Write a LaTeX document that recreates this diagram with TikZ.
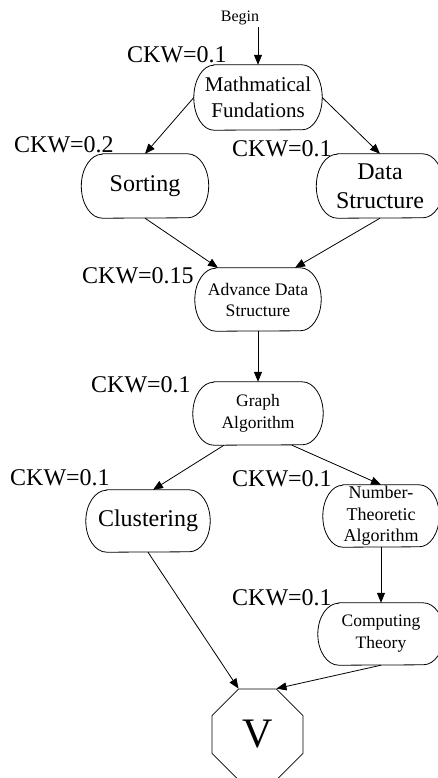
\documentclass[tikz,border=0pt]{standalone}
\usepackage{fontspec}
\setmainfont{Liberation Serif}
\usetikzlibrary{arrows.meta,shapes.geometric,calc}

% outline of a stadium-like box around a node: #1 node, #2 end x-radius, #3 half height
\newcommand\stadiumoutline[3]{%
  \draw[plain] ($(#1.north west)+(#2,0)$) -- ($(#1.north east)+(-#2,0)$)
    arc[start angle=90,end angle=-90,x radius=#2pt,y radius=#3pt]
    -- ($(#1.south west)+(#2,0)$)
    arc[start angle=270,end angle=90,x radius=#2pt,y radius=#3pt] -- cycle;}

\begin{document}
\begin{tikzpicture}[x=1pt,y=-1pt,
  plain/.style={line width=0.8pt,draw=black},
  box/.style={rectangle,draw=none,inner sep=0pt,align=center},
  ckw/.style={anchor=base west,inner sep=0pt,font=\fontsize{24}{28}\selectfont},
  edge/.style={plain,-{Triangle[length=10pt,width=8pt]}},
]
\useasboundingbox (0,0) rectangle (438,778);

% start label
\node[inner sep=0pt,font=\fontsize{16}{18}\selectfont] (begin) at (240,18) {Begin};

% course boxes
\node[box,minimum width=128pt,minimum height=65pt,font=\fontsize{21}{26}\selectfont]
  (math) at (258,97.5) {Mathmatical\\Fundations};
\node[box,minimum width=127pt,minimum height=64pt,font=\fontsize{24}{28}\selectfont]
  (sort) at (145,186) {Sorting};
\node[box,minimum width=127pt,minimum height=64pt,font=\fontsize{24}{29}\selectfont]
  (ds) at (380,186) {Data\\Structure};
\node[box,minimum width=126pt,minimum height=63pt,font=\fontsize{17.6}{21}\selectfont]
  (adv) at (258,299.5) {Advance Data\\Structure};
\node[box,minimum width=130pt,minimum height=63pt,font=\fontsize{17.5}{22}\selectfont]
  (graph) at (258,413.5) {Graph\\Algorithm};
\node[box,minimum width=124pt,minimum height=62pt,font=\fontsize{24}{28}\selectfont]
  (clus) at (148,521) {Clustering};
\node[box,minimum width=116pt,minimum height=62pt,font=\fontsize{18}{21.5}\selectfont]
  (num) at (381,516) {Number-\\Theoretic\\Algorithm};
\node[box,minimum width=126pt,minimum height=62pt,font=\fontsize{17.5}{22}\selectfont]
  (comp) at (381,634) {Computing\\Theory};

\stadiumoutline{math}{20}{32.5}
\stadiumoutline{sort}{21}{32}
\stadiumoutline{ds}{21}{32}
\stadiumoutline{adv}{21}{31.5}
\stadiumoutline{graph}{21}{31.5}
\stadiumoutline{clus}{21}{31}
\stadiumoutline{num}{20}{31}
\stadiumoutline{comp}{21}{31}

% end node
\node[regular polygon,regular polygon sides=8,minimum size=98.5pt,inner sep=0pt,
  plain,font=\fontsize{42}{46}\selectfont] (V) at (257.5,734.5) {V};

% weights
\node[ckw] (w1) at (127,63) {CKW=0.1};
\node[ckw] (w2) at (14,153) {CKW=0.2};
\node[ckw] (w3) at (232,157) {CKW=0.1};
\node[ckw] (w4) at (82,283) {CKW=0.15};
\node[ckw] (w5) at (91,392) {CKW=0.1};
\node[ckw] (w6) at (10,485) {CKW=0.1};
\node[ckw] (w7) at (232,486.5) {CKW=0.1};
\node[ckw] (w8) at (232,605) {CKW=0.1};

% connectors
\draw[edge] ($(begin.south -| math.north)+(0,2)$) -- (math.north);
\draw[edge] (math.west) -- (sort.north);
\draw[edge] (math.east) -- (ds.north);
\draw[edge] (sort.south) -- ($(adv.north)+(-40,0)$);
\draw[edge] (ds.south) -- ($(adv.north)+(37,0)$);
\draw[edge] (adv.south) -- (graph.north);
\draw[edge] ($(graph.south)+(-34,0)$) -- ($(clus.north)+(5,0)$);
\draw[edge] ($(graph.south)+(34,0)$) -- (num.north);
\draw[edge] (num.south) -- (comp.north);
\draw[edge] (clus.south) -- ($(V.north)+(-19,0)$);
\draw[edge] (comp.south) -- ($(V.north)+(19,0)$);
\end{tikzpicture}
\end{document}
